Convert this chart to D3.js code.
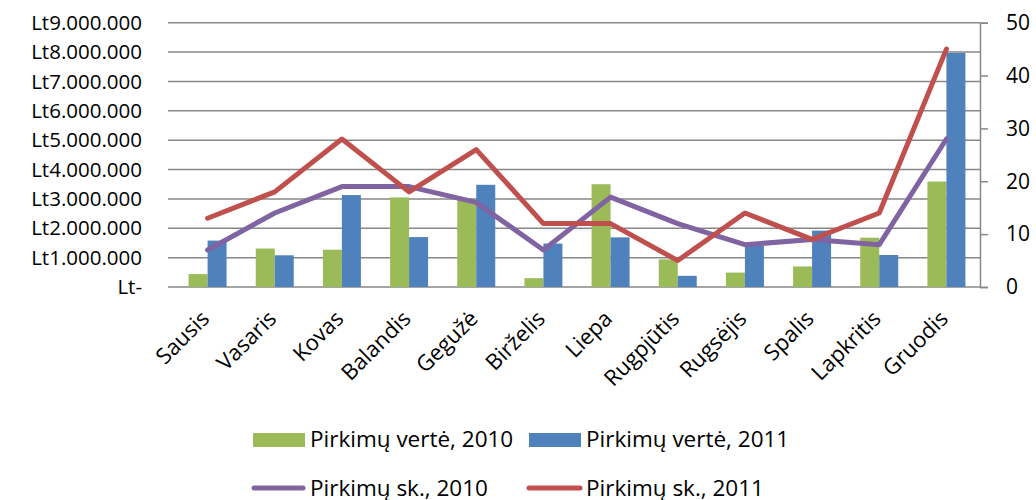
<html>
<head>
    <meta charset="utf-8">
    <script src="https://d3js.org/d3.v7.min.js"></script>
    <style>
        body { margin: 0; background: #fff; }
        text { font-family: "Open Sans", sans-serif; fill: #000; }
    </style>
</head>
<body>
    <script>
        var months = ["Sausis", "Vasaris", "Kovas", "Balandis", "Gegužė", "Birželis", "Liepa",
                      "Rugpjūtis", "Rugsėjis", "Spalis", "Lapkritis", "Gruodis"];
        // purchase value, Lt
        var value2010 = [440000, 1310000, 1270000, 3050000, 2970000, 300000, 3500000, 940000, 490000, 700000, 1680000, 3590000];
        var value2011 = [1580000, 1080000, 3130000, 1700000, 3480000, 1480000, 1690000, 380000, 1400000, 1920000, 1090000, 7970000];
        // purchase count
        var count2010 = [7, 14, 19, 19, 16, 7, 17, 12, 8, 9, 8, 28];
        var count2011 = [13, 18, 28, 18, 26, 12, 12, 5, 14, 9, 14, 45];
        var leftTicks = [0, 1000000, 2000000, 3000000, 4000000, 5000000, 6000000, 7000000, 8000000, 9000000];
        var rightTicks = [0, 10, 20, 30, 40, 50];

        var width = 1036, height = 500;
        var plotL = 174, plotR = 980, plotT = 22.7, plotB = 287;

        var svg = d3.select("body").append("svg").attr("width", width).attr("height", height);

        var x = d3.scaleBand().domain(months).range([plotL, plotR]);
        var xs = d3.scaleBand().domain(["2010", "2011"]).range([0, x.bandwidth()]).paddingOuter(0.768);
        var yL = d3.scaleLinear().domain([0, 9000000]).range([plotB, plotT]);
        var yR = d3.scaleLinear().domain([0, 50]).range([plotB, plotT]);

        // gridlines
        svg.selectAll("line.grid").data(leftTicks).enter().append("line")
            .attr("x1", plotL - 6).attr("x2", plotR)
            .attr("y1", function(d) { return yL(d); })
            .attr("y2", function(d) { return yL(d); })
            .attr("stroke", "#878787").attr("stroke-width", 1.5);

        // left labels
        var fmt = function(d) {
            if (d === 0) return "Lt-";
            return "Lt" + d3.format(",")(d).replace(/,/g, ".");
        };
        svg.selectAll("text.yl").data(leftTicks).enter().append("text")
            .attr("x", 142).attr("y", function(d) { return yL(d); })
            .attr("dy", "0.35em").attr("text-anchor", "end")
            .attr("font-size", "20.5px").text(fmt);

        // right axis
        var axisR = d3.axisRight(yR).tickValues(rightTicks).tickSize(8).tickPadding(18);
        var gR = svg.append("g").attr("transform", "translate(" + plotR + ",0)").call(axisR);
        gR.select(".domain").attr("stroke", "#878787").attr("stroke-width", 1.5);
        gR.selectAll(".tick line").attr("stroke", "#878787").attr("stroke-width", 1.5);
        gR.selectAll(".tick text").attr("font-size", "21px").attr("font-family", "Open Sans")
            .attr("fill", "#000").attr("x", 26);

        // bars
        var bars = [{ key: "2010", vals: value2010, color: "#9BBB59" }, { key: "2011", vals: value2011, color: "#4F81BD" }];
        bars.forEach(function(s) {
            svg.selectAll("rect.b" + s.key).data(s.vals).enter().append("rect")
                .attr("x", function(d, i) { return x(months[i]) + xs(s.key); })
                .attr("width", xs.bandwidth())
                .attr("y", function(d) { return yL(d); })
                .attr("height", function(d) { return plotB - yL(d); })
                .attr("fill", s.color);
        });

        // lines
        var line = d3.line()
            .x(function(d, i) { return x(months[i]) + x.bandwidth() / 2; })
            .y(function(d) { return yR(d); });
        svg.append("path").datum(count2010).attr("d", line).attr("fill", "none")
            .attr("stroke", "#8064A2").attr("stroke-width", 5).attr("stroke-linecap", "round").attr("stroke-linejoin", "round");
        svg.append("path").datum(count2011).attr("d", line).attr("fill", "none")
            .attr("stroke", "#C0504D").attr("stroke-width", 5).attr("stroke-linecap", "round").attr("stroke-linejoin", "round");

        // month labels
        svg.selectAll("text.xl").data(months).enter().append("text")
            .attr("text-anchor", "end").attr("font-size", "22px")
            .attr("transform", function(d) {
                return "translate(" + (x(d) + x.bandwidth() / 2 + 3) + ",320) rotate(-45)";
            })
            .text(function(d) { return d; });

        // legend
        var leg = svg.append("g");
        leg.append("rect").attr("x", 253).attr("y", 433).attr("width", 52).attr("height", 14).attr("fill", "#9BBB59");
        leg.append("text").attr("x", 310).attr("y", 447).attr("font-size", "22.5px").text("Pirkimų vertė, 2010");
        leg.append("rect").attr("x", 529).attr("y", 433).attr("width", 52).attr("height", 14).attr("fill", "#4F81BD");
        leg.append("text").attr("x", 586).attr("y", 447).attr("font-size", "22.5px").text("Pirkimų vertė, 2011");
        leg.append("line").attr("x1", 254).attr("x2", 303).attr("y1", 488).attr("y2", 488)
            .attr("stroke", "#8064A2").attr("stroke-width", 5).attr("stroke-linecap", "round");
        leg.append("text").attr("x", 310).attr("y", 496).attr("font-size", "22.5px").text("Pirkimų sk., 2010");
        leg.append("line").attr("x1", 529).attr("x2", 580).attr("y1", 488).attr("y2", 488)
            .attr("stroke", "#C0504D").attr("stroke-width", 5).attr("stroke-linecap", "round");
        leg.append("text").attr("x", 586).attr("y", 496).attr("font-size", "22.5px").text("Pirkimų sk., 2011");
    </script>
</body>
</html>
